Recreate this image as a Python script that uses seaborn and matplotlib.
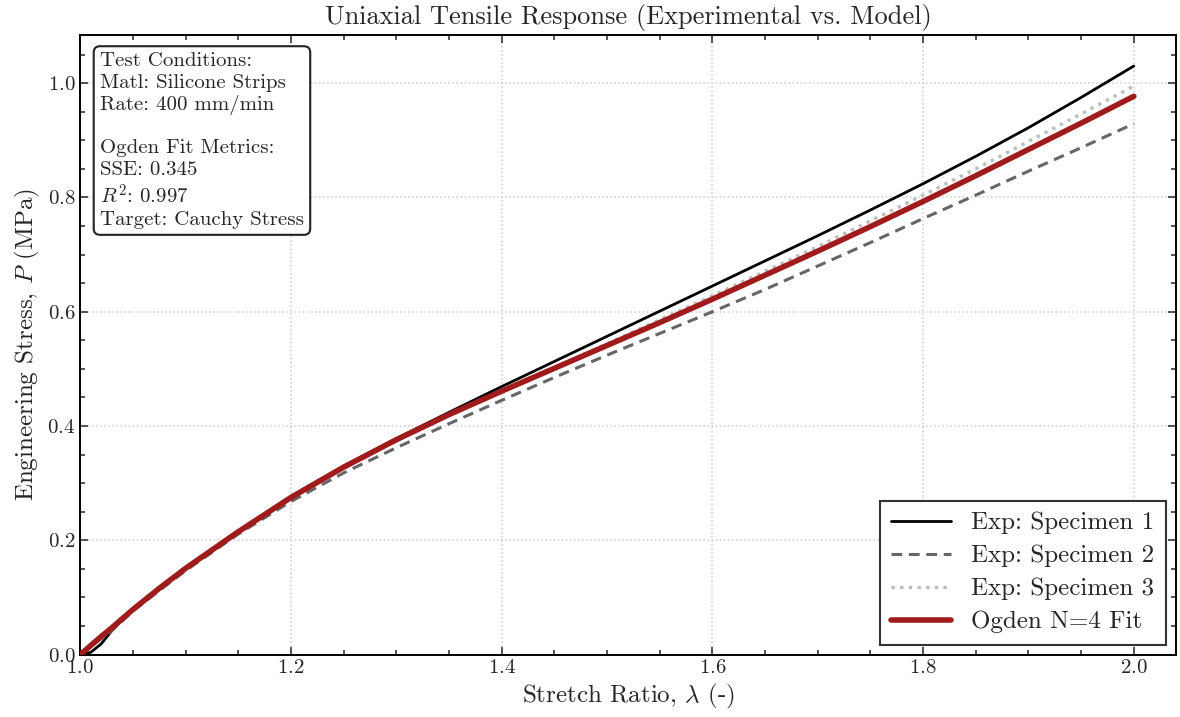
import matplotlib
matplotlib.use("Agg")
import matplotlib.pyplot as plt
import seaborn as sns
import pandas as pd

sns.set_style("ticks")
plt.rcParams['font.family'] = 'serif'
plt.rcParams['font.serif'] = ['cmr10', 'DejaVu Serif']
plt.rcParams['mathtext.fontset'] = 'cm'
plt.rcParams['axes.formatter.use_mathtext'] = True
plt.rcParams['axes.unicode_minus'] = False

# stretch grid
stretch = [1.0, 1.01, 1.02, 1.03, 1.05, 1.075, 1.1, 1.15, 1.2, 1.25, 1.3, 1.35,
           1.4, 1.45, 1.5, 1.55, 1.6, 1.65, 1.7, 1.75, 1.8, 1.85, 1.9, 1.95, 2.0]

spec1 = [0.0, 0.004, 0.019, 0.042, 0.080, 0.116, 0.152, 0.216, 0.277, 0.330, 0.378, 0.424,
         0.469, 0.513, 0.557, 0.601, 0.645, 0.689, 0.733, 0.778, 0.824, 0.872, 0.922, 0.975, 1.030]
spec2 = [0.0, 0.014, 0.028, 0.042, 0.076, 0.112, 0.147, 0.211, 0.268, 0.318, 0.362, 0.404,
         0.445, 0.485, 0.524, 0.562, 0.600, 0.639, 0.680, 0.721, 0.763, 0.804, 0.846, 0.887, 0.929]
spec3 = [0.0, 0.016, 0.031, 0.046, 0.079, 0.116, 0.151, 0.215, 0.275, 0.328, 0.376, 0.420,
         0.461, 0.502, 0.544, 0.586, 0.628, 0.671, 0.714, 0.759, 0.804, 0.850, 0.898, 0.946, 0.995]
ogden = [0.0, 0.016, 0.032, 0.047, 0.079, 0.116, 0.151, 0.215, 0.275, 0.328, 0.376, 0.420,
         0.461, 0.501, 0.541, 0.581, 0.622, 0.664, 0.706, 0.749, 0.793, 0.838, 0.884, 0.930, 0.977]

labels = ["Exp: Specimen 1", "Exp: Specimen 2", "Exp: Specimen 3", "Ogden N=4 Fit"]

info_text = ("Test Conditions:\nMatl: Silicone Strips\nRate: 400 mm/min\n\n"
             "Ogden Fit Metrics:\nSSE: 0.345\n$R^2$: 0.997\nTarget: Cauchy Stress")

df = pd.DataFrame({"stretch": stretch, "s1": spec1, "s2": spec2, "s3": spec3, "fit": ogden})

fig, ax = plt.subplots(figsize=(11.8, 7.17), dpi=100)
fig.subplots_adjust(left=0.068, right=0.9966, top=0.951, bottom=0.087)

sns.lineplot(data=df, x="stretch", y="s1", ax=ax, color="black", lw=2.0,
             label=labels[0], zorder=3)
sns.lineplot(data=df, x="stretch", y="s2", ax=ax, color="#666666", lw=2.2,
             linestyle=(0, (3.5, 2.2)), label=labels[1], zorder=3)
sns.lineplot(data=df, x="stretch", y="s3", ax=ax, color="#bdbdbd", lw=2.4,
             linestyle=(0, (1, 1.6)), label=labels[2], zorder=3)
sns.lineplot(data=df, x="stretch", y="fit", ax=ax, color="#a01c1c", lw=4.0,
             label=labels[3], zorder=4)

ax.set_xlim(1.0, 2.04)
ax.set_ylim(0.0, 1.084)
ax.set_xticks([1.0, 1.2, 1.4, 1.6, 1.8, 2.0])
ax.set_yticks([0.0, 0.2, 0.4, 0.6, 0.8, 1.0])
ax.xaxis.set_minor_locator(matplotlib.ticker.MultipleLocator(0.05))
ax.yaxis.set_minor_locator(matplotlib.ticker.MultipleLocator(0.05))
ax.tick_params(which="both", direction="in", top=True, right=True, labelsize=15, width=1.1)
ax.tick_params(which="major", length=6)
ax.tick_params(which="minor", length=3.5)
for s in ax.spines.values():
    s.set_linewidth(1.4)
    s.set_color("black")

ax.grid(True, which="major", linestyle=":", color="#cccccc", lw=1.1)

ax.set_xlabel(r"Stretch Ratio, $\lambda$ (-)", fontsize=18, labelpad=3)
ax.set_ylabel(r"Engineering Stress, $P$ (MPa)", fontsize=18)
ax.set_title("Uniaxial Tensile Response (Experimental vs. Model)", fontsize=19, pad=8)

leg = ax.legend(loc="lower right", fontsize=18, frameon=True, fancybox=False,
                handlelength=2.4, borderpad=0.45, labelspacing=0.42, framealpha=1.0,
                borderaxespad=0.4)
leg.get_frame().set_edgecolor("#333333")
leg.get_frame().set_linewidth(1.5)

ax.text(0.018, 0.972, info_text, transform=ax.transAxes, fontsize=15, va="top", ha="left",
        linespacing=1.23,
        bbox=dict(boxstyle="round,pad=0.3", facecolor="white", edgecolor="#222222", lw=1.5),
        zorder=5)

plt.savefig("out.png", dpi=100)
